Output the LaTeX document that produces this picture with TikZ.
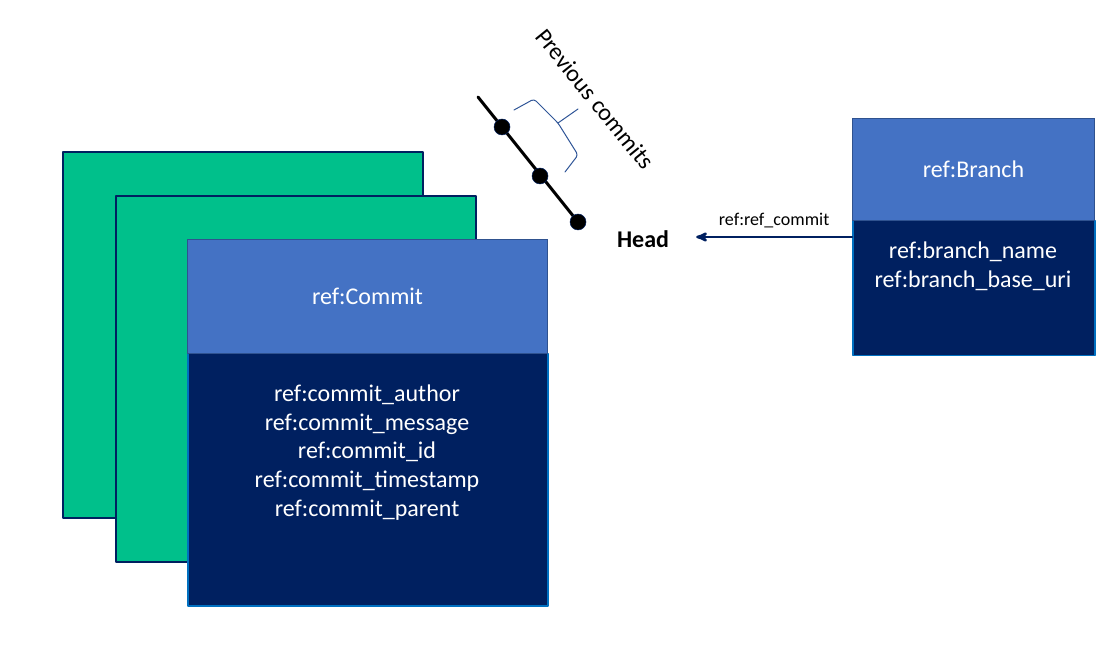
\documentclass[tikz,border=0pt]{standalone}
\usepackage{fontspec}
\setmainfont{Carlito}
\usepackage{tikz}
\usetikzlibrary{arrows}
\definecolor{navy}{RGB}{0,32,96}
\definecolor{boxgreen}{RGB}{0,192,139}
\definecolor{hdrblue}{RGB}{68,114,196}
\definecolor{edgeblue}{RGB}{0,112,192}
\definecolor{hdredge}{RGB}{47,82,143}
\definecolor{braceblue}{RGB}{47,85,151}
\newcommand{\boxfont}{\fontsize{24}{28.7}\selectfont}

\begin{document}
\begin{tikzpicture}[line cap=round,line join=round,>=stealth',x=1pt,y=1pt,
  greenbox/.style={draw=navy,line width=2pt,fill=boxgreen,minimum width=360pt,minimum height=366pt,anchor=north west,inner sep=0pt},
  header/.style={draw=hdredge,line width=1pt,fill=hdrblue,anchor=north west,inner sep=0pt,text=white,font=\boxfont},
  body/.style={draw=edgeblue,line width=1.5pt,fill=navy,anchor=north west,inner sep=0pt},
  fields/.style={text=white,font=\boxfont,align=center,inner sep=0pt},
  dot/.style={circle,fill=black,draw=navy,line width=0.5pt,minimum size=16pt,inner sep=0pt}]
\useasboundingbox (0,0) rectangle (1107,659);
\node[greenbox] (back) at (62,508) {};
\node[greenbox] (mid) at (115,464) {};
\node[body,minimum width=360pt,minimum height=252pt] (commitbody) at (187,306) {};
\node[header,minimum width=360pt,minimum height=114pt] (commithead) at (187,420) {ref:Commit};
\node[fields] (commitfields) at (367,206.5) {ref:commit\_author\\ref:commit\_message\\ref:commit\_id\\ref:commit\_timestamp\\ref:commit\_parent};
\node[body,minimum width=242pt,minimum height=135pt] (branchbody) at (852,439) {};
\node[header,minimum width=242pt,minimum height=102pt] (branchhead) at (852,541) {ref:Branch};
\node[fields] (branchfields) at (973,393) {ref:branch\_name\\ref:branch\_base\_uri};
\node[font=\boxfont\bfseries,inner sep=0pt] (head) at (643,420) {Head};
\draw [->,draw=navy,line width=2.5pt] (branchbody.west |- 0,422) -- ([xshift=27pt]head.east |- 0,422) node[midway,above=4pt,text=black,font=\fontsize{18}{20}\selectfont] (reflabel) {ref:ref\_commit};
\coordinate (tail) at (478,562);
\coordinate (tip) at (578,437);
\draw [line width=3pt] (tail) -- (tip);
\node[dot] (c1) at (502,532) {};
\node[dot] (c2) at (540,483) {};
\node[dot] (c3) at (tip) {};
\draw [braceblue,line width=1pt,rounded corners=3pt] (514,549) -- (534,560) -- (558,536) -- (578,504) -- (565,487);
\draw [braceblue,line width=1pt] (558,536) -- (578,550);
\node[font=\boxfont,rotate=-51] (prevlabel) at (595,560) {Previous commits};
\end{tikzpicture}
\end{document}
